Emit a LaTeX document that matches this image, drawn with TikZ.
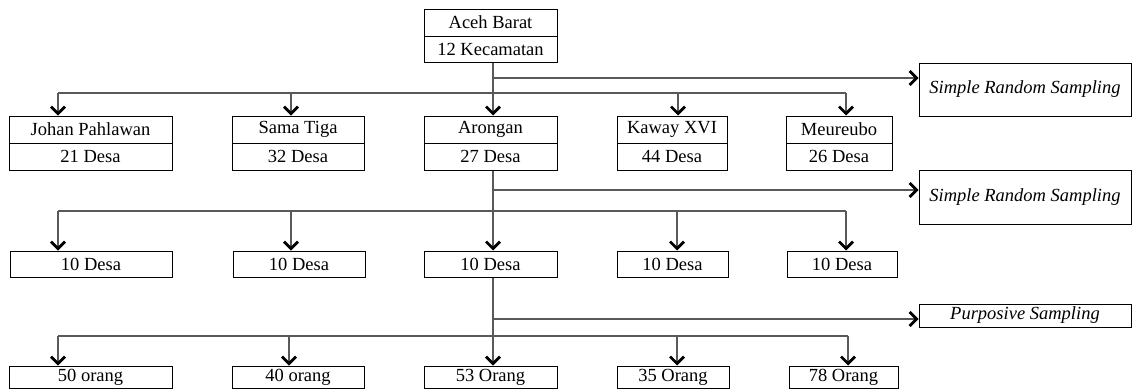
\documentclass[tikz,border=0pt]{standalone}
\usepackage{fontspec}
\setmainfont{Liberation Serif}
\usetikzlibrary{arrows.meta,calc}
\begin{document}
\begin{tikzpicture}[x=1pt,y=-1pt,
  box/.style={draw=black,line width=1pt,inner sep=0pt,font=\fontsize{18.5}{20}\selectfont},
  conn/.style={draw=black!65,line width=1.1pt},
  arr/.style={conn,-{Straight Barb[length=7pt,width=14pt,line width=2.8pt,color=black]}}]
\useasboundingbox (0,0) rectangle (1132,389);
% top
\node[box,minimum width=133pt,minimum height=27pt] (a1) at (490.5,22.5) {Aceh Barat};
\node[box,minimum width=133pt,minimum height=26pt] (a2) at (490.5,49) {12 Kecamatan};
% row 1
\node[box,minimum width=163pt,minimum height=27pt] (j1) at (90.5,129.5) {Johan Pahlawan};
\node[box,minimum width=163pt,minimum height=27pt] (j2) at (90.5,156.5) {21 Desa};
\node[box,minimum width=132pt,minimum height=27pt] (sa1) at (298,129.5) {Sama Tiga};
\node[box,minimum width=132pt,minimum height=27pt] (sa2) at (298,156.5) {32 Desa};
\node[box,minimum width=133pt,minimum height=27pt] (ar1) at (490.5,129.5) {Arongan};
\node[box,minimum width=133pt,minimum height=27pt] (ar2) at (490.5,156.5) {27 Desa};
\node[box,minimum width=110pt,minimum height=27pt] (k1) at (672,129.5) {Kaway XVI};
\node[box,minimum width=110pt,minimum height=27pt] (k2) at (672,156.5) {44 Desa};
\node[box,minimum width=106pt,minimum height=27pt] (m1) at (839,129.5) {Meureubo};
\node[box,minimum width=106pt,minimum height=27pt] (m2) at (839,156.5) {26 Desa};
% row 2
\node[box,minimum width=162pt,minimum height=26pt] (d1) at (91,264) {10 Desa};
\node[box,minimum width=132pt,minimum height=26pt] (d2) at (299,264) {10 Desa};
\node[box,minimum width=133pt,minimum height=26pt] (d3) at (490.5,264) {10 Desa};
\node[box,minimum width=111pt,minimum height=26pt] (d4) at (672.5,264) {10 Desa};
\node[box,minimum width=110pt,minimum height=26pt] (d5) at (842,264) {10 Desa};
% row 3
\node[box,minimum width=163pt,minimum height=22pt] (o1) at (90.5,377) {50 orang};
\node[box,minimum width=132pt,minimum height=22pt] (o2) at (298,377) {40 orang};
\node[box,minimum width=133pt,minimum height=22pt] (o3) at (490.5,377) {53 Orang};
\node[box,minimum width=112pt,minimum height=22pt] (o4) at (673,377) {35 Orang};
\node[box,minimum width=109pt,minimum height=22pt] (o5) at (843.5,377) {78 Orang};
% sampling boxes
\node[box,minimum width=212pt,minimum height=53pt,font=\fontsize{18.5}{20}\selectfont\itshape] (s1) at (1025,89.5) {Simple Random Sampling};
\node[box,minimum width=212pt,minimum height=54pt,font=\fontsize{18.5}{20}\selectfont\itshape] (s2) at (1025,197) {Simple Random Sampling};
\node[box,minimum width=212pt,minimum height=23pt,font=\fontsize{18.5}{20}\selectfont\itshape] (p) at (1025,315.5) {Purposive Sampling};
% level 1 connectors
\coordinate (t1) at (493,78);
\draw[arr] (a2.south -| t1) -- (t1 |- ar1.north);
\draw[arr] (t1) -- (t1 -| s1.west);
\coordinate (h1a) at (58,93);
\coordinate (h1c) at (291,93);
\coordinate (h1d) at (678,93);
\coordinate (h1b) at (846,93);
\draw[conn] (h1a) -- (h1b);
\draw[arr] (h1a) -- (h1a |- j1.north);
\draw[arr] (h1c) -- (h1c |- sa1.north);
\draw[arr] (h1d) -- (h1d |- k1.north);
\draw[arr] (h1b) -- (h1b |- m1.north);
% level 2 connectors
\coordinate (t2) at (493,190);
\draw[arr] (ar2.south -| t2) -- (t2 |- d3.north);
\draw[arr] (t2) -- (t2 -| s2.west);
\coordinate (h2a) at (58,211);
\coordinate (h2c) at (291,211);
\coordinate (h2d) at (677,211);
\coordinate (h2b) at (846,211);
\draw[conn] (h2a) -- (h2b);
\draw[arr] (h2a) -- (h2a |- d1.north);
\draw[arr] (h2c) -- (h2c |- d2.north);
\draw[arr] (h2d) -- (h2d |- d4.north);
\draw[arr] (h2b) -- (h2b |- d5.north);
% level 3 connectors
\coordinate (t3) at (493,319);
\draw[arr] (d3.south -| t3) -- (t3 |- o3.north);
\draw[arr] (t3) -- (t3 -| p.west);
\coordinate (h3a) at (58,336);
\coordinate (h3c) at (289,336);
\coordinate (h3d) at (677,336);
\coordinate (h3b) at (848,336);
\draw[conn] (h3a) -- (h3b);
\draw[arr] (h3a) -- (h3a |- o1.north);
\draw[arr] (h3c) -- (h3c |- o2.north);
\draw[arr] (h3d) -- (h3d |- o4.north);
\draw[arr] (h3b) -- (h3b |- o5.north);
\end{tikzpicture}
\end{document}
